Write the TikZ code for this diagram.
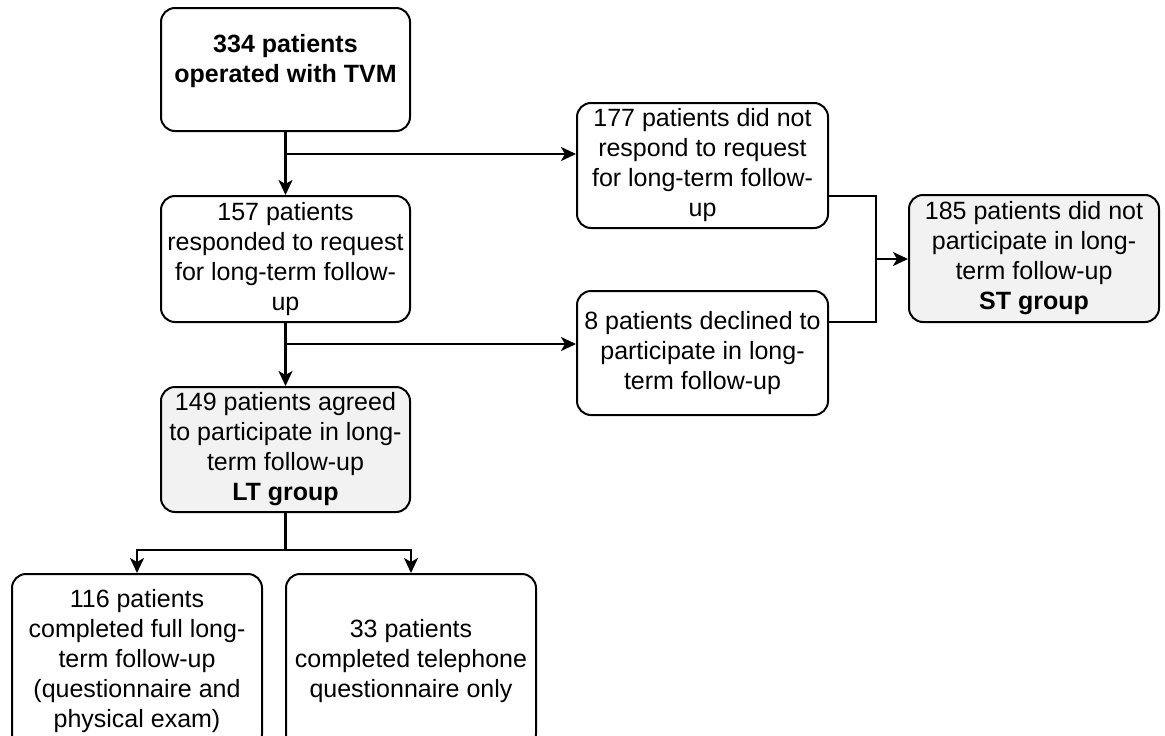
\documentclass[tikz,border=0pt]{standalone}
\usepackage{fontspec}
\setmainfont{Liberation Sans}
\usetikzlibrary{arrows.meta}
\newcommand{\upshifted}[2]{\raisebox{0pt}[\height][\dimexpr\depth+#1\relax]{\begin{tabular}{@{}c@{}}#2\end{tabular}}}
\begin{document}
\begin{tikzpicture}[x=1pt,y=-1pt,
  box/.style={draw=black, line width=2pt, rounded corners=14pt, minimum width=249pt, minimum height=125pt, align=center, font=\fontsize{25}{30}\selectfont, inner sep=0pt, fill=white},
  grp/.style={box, fill=black!5},
  tall/.style={box, minimum height=174pt},
  ln/.style={line width=2.2pt},
  conn/.style={ln, -{Stealth[length=15pt,width=14pt,inset=4pt]}}]
\useasboundingbox (0,0) rectangle (1165,736);
\clip (0,0) rectangle (1165,736);
\node[box, font=\fontsize{25}{30}\selectfont\bfseries, minimum height=123pt] (b1) at (285.5,69.5) {\upshifted{16pt}{334 patients\\operated with TVM}};
\node[box, minimum height=126pt] (b2) at (285.5,259) {157 patients\\responded to request\\for long-term follow-\\up};
\node[grp] (b3) at (285.5,449.5) {149 patients agreed\\to participate in long-\\term follow-up\\\textbf{LT group}};
\node[box, minimum width=251pt] (b4) at (702.5,165.5) {177 patients did not\\respond to request\\for long-term follow-\\up};
\node[box, minimum width=251pt, minimum height=124pt] (b5) at (702.5,353) {8 patients declined to\\participate in long-\\term follow-up};
\node[grp, minimum width=250pt, minimum height=127pt] (b6) at (1034,258.5) {185 patients did not\\participate in long-\\term follow-up\\\textbf{ST group}};
\node[tall, minimum width=250pt] (b7) at (137,661) {116 patients\\completed full long-\\term follow-up\\(questionnaire and\\physical exam)};
\node[tall, minimum width=250pt] (b8) at (411,661) {33 patients\\completed telephone\\questionnaire only};
% connectors
\path (b1.south) ++(0,22) coordinate (j1);
\path (b2.south) ++(0,21) coordinate (j2);
\path (b3.south) ++(0,37) coordinate (j3);
\coordinate (jx) at (876,259);
\draw[conn] (b1.south) -- (b2.north);
\draw[conn] (j1) -- (j1 -| b4.west);
\draw[conn] (b2.south) -- (b3.north);
\draw[conn] (j2) -- (j2 -| b5.west);
\draw[ln] ([yshift=-30.5pt]b4.east) -| (jx) |- ([yshift=31pt]b5.east);
\draw[conn] (jx) -- (jx -| b6.west);
\draw[ln] (b3.south) -- (j3);
\draw[conn] (j3) -| (b7.north);
\draw[conn] (j3) -| (b8.north);
\end{tikzpicture}
\end{document}
